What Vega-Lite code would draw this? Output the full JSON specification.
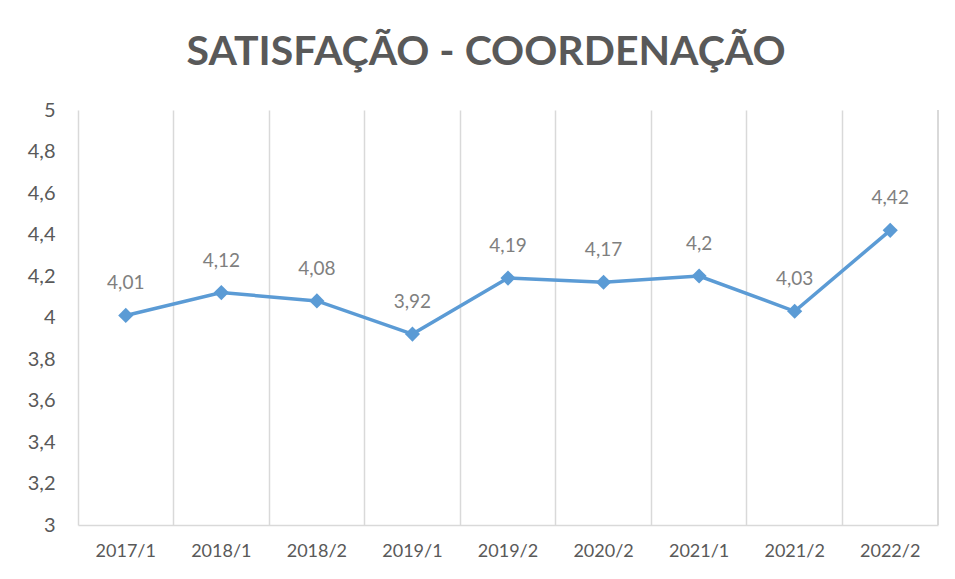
{
  "$schema": "https://vega.github.io/schema/vega-lite/v6.json",
  "autosize": "none",
  "width": 860,
  "height": 415,
  "padding": {"left": 78, "top": 110, "right": 17, "bottom": 54},
  "background": "white",
  "config": {
    "view": {"stroke": null},
    "locale": {"number": {"decimal": ",", "thousands": ".", "grouping": [3], "currency": ["R$", ""]}}
  },
  "title": {
    "text": "SATISFAÇÃO - COORDENAÇÃO",
    "font": "Lato",
    "fontSize": 41,
    "fontWeight": "bold",
    "color": "#595959",
    "anchor": "middle",
    "baseline": "alphabetic",
    "offset": -6,
    "dx": -22
  },
  "data": {
    "values": [
      {"periodo": "2017/1", "valor": 4.01},
      {"periodo": "2018/1", "valor": 4.12},
      {"periodo": "2018/2", "valor": 4.08},
      {"periodo": "2019/1", "valor": 3.92},
      {"periodo": "2019/2", "valor": 4.19},
      {"periodo": "2020/2", "valor": 4.17},
      {"periodo": "2021/1", "valor": 4.2},
      {"periodo": "2021/2", "valor": 4.03},
      {"periodo": "2022/2", "valor": 4.42}
    ]
  },
  "encoding": {
    "x": {
      "field": "periodo",
      "type": "ordinal",
      "sort": null,
      "scale": {"type": "band", "paddingInner": 0, "paddingOuter": 0,
        "domain": ["2017/1", "2018/1", "2018/2", "2019/1", "2019/2", "2020/2", "2021/1", "2021/2", "2022/2"]},
      "axis": {
        "title": null,
        "labelAngle": 0,
        "labelFont": "Lato",
        "labelFontSize": 18,
        "labelColor": "#595959",
        "labelPadding": 17,
        "ticks": false,
        "domainColor": "#d9d9d9",
        "domainWidth": 1.5,
        "grid": true,
        "gridColor": "#d9d9d9",
        "gridWidth": 1.5,
        "bandPosition": 0
      }
    },
    "y": {
      "field": "valor",
      "type": "quantitative",
      "scale": {"domain": [3, 5], "zero": false, "nice": false},
      "axis": {
        "title": null,
        "values": [3, 3.2, 3.4, 3.6, 3.8, 4, 4.2, 4.4, 4.6, 4.8, 5],
        "format": ".1~f",
        "labelFont": "Lato",
        "labelFontSize": 20,
        "labelColor": "#595959",
        "labelPadding": 23,
        "ticks": false,
        "domain": false,
        "grid": false
      }
    }
  },
  "layer": [
    {
      "mark": {"type": "rule", "color": "#d9d9d9", "strokeWidth": 1.5},
      "encoding": {
        "x": {"datum": "2022/2", "bandPosition": 1},
        "y": {"datum": 3},
        "y2": {"datum": 5}
      }
    },
    {
      "mark": {"type": "line", "color": "#5B9BD5", "strokeWidth": 3.5}
    },
    {
      "mark": {"type": "point", "shape": "diamond", "filled": true, "color": "#5B9BD5", "size": 230, "opacity": 1}
    },
    {
      "mark": {"type": "text", "font": "Lato", "fontSize": 19, "color": "#7f7f7f", "baseline": "middle", "dy": -32},
      "encoding": {"text": {"field": "valor", "type": "quantitative", "format": ".2~f"}}
    }
  ]
}
